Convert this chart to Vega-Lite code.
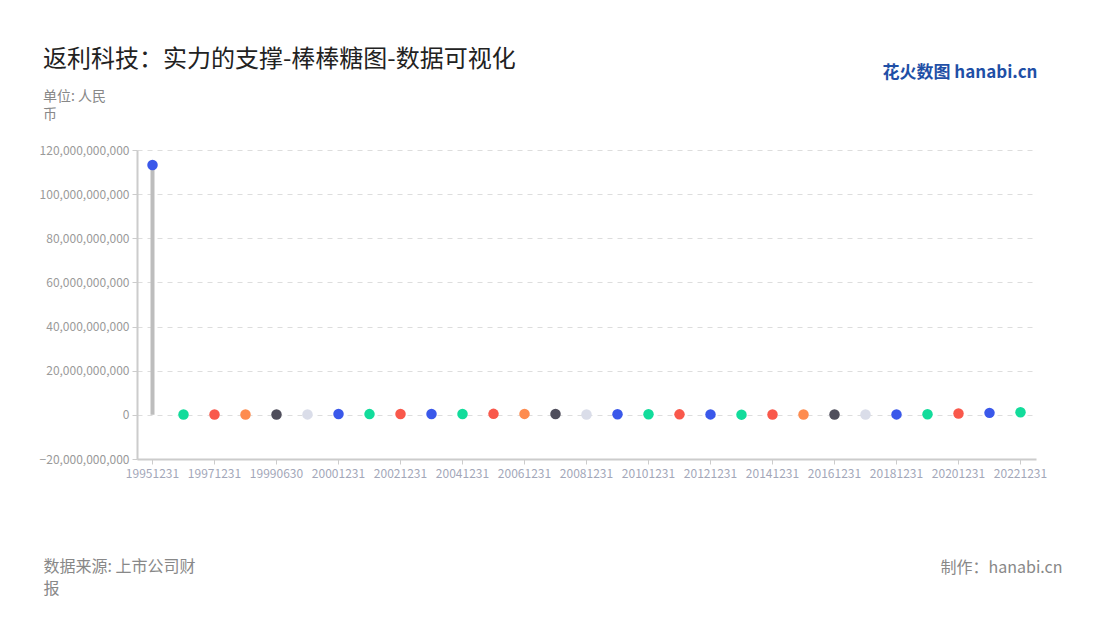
{
  "$schema": "https://vega.github.io/schema/vega-lite/v6.json",
  "width": 899,
  "height": 309,
  "autosize": "none",
  "padding": {"left": 137, "top": 150, "right": 64, "bottom": 161},
  "background": "white",
  "config": {
    "font": "Noto Sans CJK SC",
    "view": {"stroke": null},
    "axis": {"labelFont": "Noto Sans CJK SC", "titleFont": "Noto Sans CJK SC"}
  },
  "title": {
    "text": "返利科技：实力的支撑-棒棒糖图-数据可视化",
    "subtitle": ["单位: 人民", "币"],
    "anchor": "start",
    "frame": "group",
    "dx": -94,
    "dy": 89,
    "offset": 30,
    "fontSize": 24,
    "fontWeight": "normal",
    "color": "#222222",
    "subtitleFontSize": 14,
    "subtitleColor": "#888888",
    "subtitlePadding": 18,
    "subtitleLineHeight": 18
  },
  "data": {
    "values": [
      {"date": "19951231", "value": 113200000000},
      {"date": "19961231", "value": 150000000},
      {"date": "19971231", "value": 160000000},
      {"date": "19981231", "value": 170000000},
      {"date": "19990630", "value": 180000000},
      {"date": "19991231", "value": 200000000},
      {"date": "20001231", "value": 400000000},
      {"date": "20011231", "value": 350000000},
      {"date": "20021231", "value": 380000000},
      {"date": "20031231", "value": 400000000},
      {"date": "20041231", "value": 420000000},
      {"date": "20051231", "value": 450000000},
      {"date": "20061231", "value": 430000000},
      {"date": "20071231", "value": 420000000},
      {"date": "20081231", "value": 150000000},
      {"date": "20091231", "value": 300000000},
      {"date": "20101231", "value": 250000000},
      {"date": "20111231", "value": 230000000},
      {"date": "20121231", "value": 200000000},
      {"date": "20131231", "value": 100000000},
      {"date": "20141231", "value": 150000000},
      {"date": "20151231", "value": 160000000},
      {"date": "20161231", "value": 170000000},
      {"date": "20171231", "value": 180000000},
      {"date": "20181231", "value": 200000000},
      {"date": "20191231", "value": 250000000},
      {"date": "20201231", "value": 600000000},
      {"date": "20211231", "value": 900000000},
      {"date": "20221231", "value": 1200000000}
    ]
  },
  "layer": [
    {
      "mark": {"type": "rule", "color": "#bdbdbd", "strokeWidth": 4},
      "encoding": {
        "x": {
          "field": "date",
          "type": "nominal",
          "axis": {
            "values": ["19951231", "19971231", "19990630", "20001231", "20021231", "20041231", "20061231", "20081231", "20101231", "20121231", "20141231", "20161231", "20181231", "20201231", "20221231"],
            "labelAngle": 0,
            "labelOverlap": false,
            "labelColor": "#a3a7b9",
            "labelFontSize": 12,
            "labelPadding": 4,
            "tickColor": "#cccccc",
            "tickSize": 5,
            "domainColor": "#cccccc",
            "domainWidth": 2,
            "grid": false,
            "title": ["数据来源: 上市公司财", "报"],
            "titleX": -94,
            "titleY": 99,
            "titleAlign": "left",
            "titleAnchor": "start",
            "titleBaseline": "top",
            "titleFontSize": 16,
            "titleFontWeight": "normal",
            "titleColor": "#888888",
            "titleLineHeight": 22
          }
        },
        "y": {
          "field": "value",
          "type": "quantitative",
          "scale": {"domain": [-20000000000, 120000000000], "nice": false, "zero": false},
          "axis": {
            "values": [-20000000000, 0, 20000000000, 40000000000, 60000000000, 80000000000, 100000000000, 120000000000],
            "format": ",d",
            "labelColor": "#9a9a9a",
            "labelFontSize": 12,
            "labelPadding": 3,
            "tickColor": "#cccccc",
            "tickSize": 5,
            "domainColor": "#cccccc",
            "domainWidth": 2,
            "grid": true,
            "gridColor": "#dddddd",
            "gridDash": [5, 5],
            "title": null
          }
        },
        "y2": {"datum": 0}
      }
    },
    {
      "mark": {"type": "circle", "size": 110, "opacity": 1},
      "encoding": {
        "x": {
          "field": "date",
          "type": "nominal",
          "axis": {
            "orient": "top",
            "labels": false,
            "ticks": false,
            "domain": false,
            "grid": false,
            "title": "制作：hanabi.cn",
            "titleX": 925,
            "titleY": 417,
            "titleAlign": "right",
            "titleAnchor": "end",
            "titleBaseline": "middle",
            "titleFontSize": 16,
            "titleFontWeight": "normal",
            "titleColor": "#888888"
          }
        },
        "y": {
          "field": "value",
          "type": "quantitative",
          "axis": {
            "orient": "right",
            "labels": false,
            "ticks": false,
            "domain": false,
            "grid": false,
            "title": "花火数图 hanabi.cn",
            "titleAngle": 0,
            "titleX": 1,
            "titleY": -78,
            "titleAlign": "right",
            "titleBaseline": "middle",
            "titleFontSize": 17,
            "titleFontWeight": "bold",
            "titleColor": "#1f4fa6"
          }
        },
        "color": {
          "field": "date",
          "type": "nominal",
          "legend": null,
          "scale": {"range": ["#3a58ea", "#12dc9b", "#f9584b", "#fe8c4f", "#4f4e5c", "#dadde9", "#3a58ea", "#12dc9b", "#f9584b"]}
        }
      }
    }
  ],
  "resolve": {"axis": {"x": "independent", "y": "independent"}}
}
